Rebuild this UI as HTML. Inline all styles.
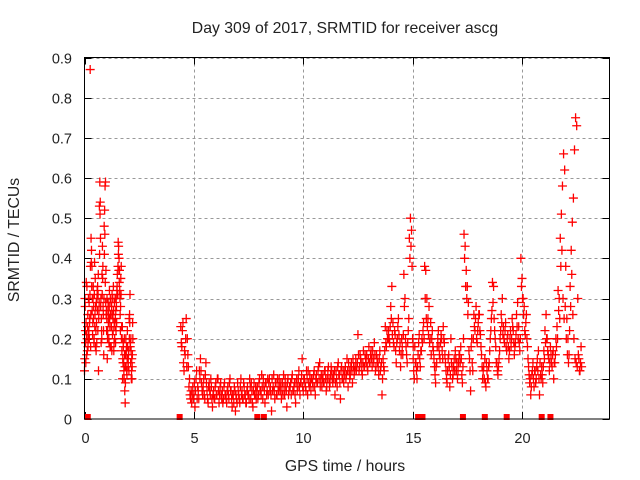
<!DOCTYPE html>
<html><head><meta charset="utf-8"><style>
body{margin:0;background:#fff}
svg{display:block;font-family:"Liberation Sans",sans-serif}
</style></head><body>
<svg id="chart" width="640" height="480" viewBox="0 0 640 480">
<rect width="640" height="480" fill="#fff"/>
<text x="345" y="33" text-anchor="middle" font-size="15.8" fill="#222">Day 309 of 2017, SRMTID for receiver ascg</text>
<text x="345" y="471" text-anchor="middle" font-size="15.8" fill="#222">GPS time / hours</text>
<text transform="translate(19,240) rotate(-90)" text-anchor="middle" font-size="15.8" fill="#222">SRMTID / TECUs</text>
<g id="grid"></g>
<g id="ticks"></g>
<g id="marks"></g>
<rect x="84.5" y="57.5" width="525" height="361.5" fill="none" stroke="#000" stroke-width="1"/>
</svg>
<script>
const xTicks=[0,5,10,15,20];
const yTicks=[0,0.1,0.2,0.3,0.4,0.5,0.6,0.7,0.8,0.9];
const yTickLabels=["0","0.1","0.2","0.3","0.4","0.5","0.6","0.7","0.8","0.9"];
const segAStart=0.0, segAStep=0.02;
const segAValues=[0.12,0.3,0.22,0.14,0.34,0.16,0.2,0.23,0.18,0.3,
0.22,0.2,0.25,0.87,0.18,0.45,0.42,0.38,0.3,0.24,
0.33,0.28,0.2,0.39,0.26,0.18,0.22,0.29,0.19,0.32,
0.33,0.31,0.12,0.27,0.53,0.59,0.54,0.28,0.19,0.22,
0.36,0.43,0.38,0.26,0.16,0.48,0.52,0.58,0.59,0.37,
0.27,0.25,0.15,0.22,0.29,0.26,0.19,0.32,0.23,0.3,
0.26,0.18,0.28,0.31,0.21,0.25,0.33,0.17,0.24,0.2,
0.3,0.19,0.22,0.28,0.32,0.36,0.31,0.44,0.43,0.4,
0.37,0.3,0.22,0.35,0.38,0.23,0.2,0.1,0.14,0.18,
0.12,0.2,0.07,0.04,0.16,0.13,0.18,0.11,0.22,0.15,
0.14,0.17,0.25,0.26,0.31,0.19,0.2,0.1,0.15,0.13,0.24];
const segA2Start=0.01;
const segA2Values=[0.15,0.28,0.19,0.24,0.21,0.33,0.17,0.26,0.22,0.2,
0.29,0.24,0.31,0.38,0.26,0.39,0.33,0.27,0.21,0.3,
0.25,0.19,0.31,0.23,0.35,0.28,0.17,0.24,0.3,0.27,
0.22,0.36,0.25,0.29,0.41,0.51,0.45,0.3,0.25,0.2,
0.31,0.35,0.28,0.22,0.3,0.41,0.46,0.34,0.29,0.26,
0.22,0.3,0.2,0.27,0.24,0.2,0.28,0.25,0.18,0.26,
0.29,0.23,0.17,0.26,0.3,0.22,0.27,0.19,0.29,0.23,
0.25,0.27,0.3,0.24,0.33,0.31,0.38,0.41,0.37,0.34,
0.32,0.26,0.28,0.31,0.2,0.17,0.23,0.15,0.19,0.14,
0.1,0.16,0.13,0.09,0.2,0.17,0.12,0.15,0.18,0.13,
0.16,0.12,0.2,0.24,0.18,0.14,0.17,0.12,0.1,0.16,0.2];
const segBStart=4.4, segBStep=0.05;
const segBValues=[0.23,0.18,0.24,0.12,0.16,0.25,0.2,0.13,0.1,0.05,
0.04,0.08,0.06,0.03,0.1,0.05,0.07,0.12,0.15,0.09,
0.06,0.1,0.05,0.14,0.07,0.04,0.09,0.06,0.08,0.03,
0.07,0.05,0.09,0.06,0.1,0.04,0.08,0.06,0.07,0.05,
0.09,0.06,0.04,0.08,0.05,0.1,0.07,0.03,0.06,0.08,
0.02,0.05,0.09,0.06,0.04,0.1,0.07,0.05,0.08,0.06,
0.04,0.08,0.06,0.1,0.05,0.07,0.03,0.09,0.06,0.05,
0.08,0.06,0.1,0.07,0.11,0.05,0.08,0.04,0.09,0.07,
0.06,0.1,0.08,0.02,0.07,0.11,0.05,0.09,0.06,0.08,
0.1,0.07,0.05,0.09,0.11,0.06,0.08,0.03,0.1,0.07,
0.08,0.06,0.11,0.07,0.09,0.04,0.1,0.08,0.12,0.06,
0.09,0.15,0.07,0.1,0.08,0.12,0.06,0.09,0.11,0.07,
0.1,0.08,0.12,0.06,0.11,0.09,0.13,0.14,0.1,0.08,
0.11,0.09,0.12,0.07,0.1,0.13,0.08,0.11,0.12,0.09,
0.1,0.06,0.12,0.08,0.14,0.11,0.05,0.13,0.1,0.09,
0.12,0.1,0.15,0.08,0.12,0.11,0.14,0.09,0.13,0.12,
0.15,0.13,0.21,0.12,0.16,0.14,0.11,0.17,0.13,0.15,
0.16,0.12,0.18,0.14,0.17,0.13,0.15,0.19,0.12,0.16,
0.14,0.11,0.17,0.13,0.06,0.15,0.12,0.23,0.18,0.2,
0.22,0.19,0.28,0.33,0.24,0.18,0.21,0.14,0.2,0.25,
0.17,0.13,0.2,0.16,0.36,0.3,0.18,0.14,0.22,0.45,
0.5,0.47,0.2];
const segB2Start=4.425;
const segB2Values=[0.19,0.22,0.14,0.17,0.2,0.13,0.16,0.08,0.06,0.07,
0.06,0.05,0.09,0.07,0.12,0.08,0.05,0.1,0.12,0.07,
0.08,0.06,0.11,0.09,0.05,0.08,0.07,0.1,0.05,0.06,
0.05,0.08,0.06,0.1,0.07,0.06,0.09,0.05,0.04,0.08,
0.06,0.05,0.07,0.06,0.09,0.07,0.05,0.06,0.04,0.07,
0.06,0.04,0.07,0.05,0.08,0.06,0.05,0.09,0.06,0.04,
0.07,0.06,0.05,0.08,0.09,0.04,0.07,0.06,0.08,0.07,
0.05,0.09,0.07,0.06,0.08,0.1,0.07,0.09,0.06,0.1,
0.09,0.07,0.06,0.1,0.08,0.07,0.09,0.06,0.1,0.07,
0.08,0.09,0.07,0.06,0.08,0.1,0.07,0.09,0.06,0.08,
0.09,0.1,0.07,0.08,0.06,0.09,0.07,0.1,0.08,0.09,
0.11,0.08,0.1,0.09,0.07,0.1,0.12,0.08,0.09,0.1,
0.09,0.11,0.08,0.1,0.09,0.12,0.1,0.08,0.11,0.1,
0.09,0.12,0.1,0.08,0.12,0.1,0.09,0.13,0.1,0.11,
0.12,0.09,0.1,0.13,0.11,0.09,0.12,0.1,0.12,0.11,
0.13,0.11,0.12,0.14,0.1,0.13,0.12,0.15,0.11,0.13,
0.12,0.14,0.16,0.13,0.15,0.12,0.14,0.13,0.16,0.14,
0.13,0.15,0.14,0.16,0.15,0.17,0.14,0.16,0.13,0.15,
0.13,0.15,0.12,0.14,0.1,0.13,0.17,0.19,0.22,0.2,
0.2,0.23,0.25,0.21,0.19,0.22,0.17,0.19,0.23,0.21,
0.19,0.16,0.18,0.21,0.28,0.2,0.16,0.19,0.25,0.4,
0.43,0.38,0.18];
const segCStart=15.0, segCStep=0.05;
const segCValues=[0.2,0.12,0.18,0.14,0.1,0.16,0.21,0.13,0.17,0.19,
0.24,0.38,0.37,0.3,0.25,0.28,0.2,0.16,0.22,0.17,
0.13,0.09,0.14,0.2,0.18,0.15,0.21,0.17,0.23,0.19,
0.14,0.1,0.12,0.16,0.08,0.2,0.13,0.11,0.15,0.17,
0.12,0.1,0.14,0.16,0.18,0.11,0.13,0.46,0.43,0.37,
0.33,0.29,0.15,0.07,0.2,0.12,0.26,0.22,0.28,0.19,
0.24,0.26,0.21,0.16,0.1,0.13,0.15,0.08,0.12,0.1,
0.14,0.2,0.25,0.34,0.33,0.22,0.18,0.14,0.11,0.15,
0.2,0.26,0.3,0.23,0.19,0.24,0.17,0.21,0.15,0.2,
0.18,0.25,0.22,0.16,0.19,0.26,0.29,0.23,0.17,0.4,
0.35,0.3,0.28,0.21,0.26,0.18,0.13,0.09,0.06,0.11,
0.14,0.08,0.12,0.1,0.15,0.17,0.06,0.11,0.13,0.09,
0.17,0.22,0.26,0.2,0.16,0.12,0.18,0.14,0.16,0.1,
0.14,0.2,0.23,0.32,0.3,0.45,0.51,0.58,0.66,0.62,
0.38,0.25,0.2,0.16,0.33,0.42,0.49,0.55,0.67,0.75,
0.73,0.3,0.15,0.12,0.18];
const segC2Start=15.025;
const segC2Values=[0.15,0.1,0.14,0.12,0.13,0.19,0.15,0.17,0.2,0.22,
0.2,0.3,0.25,0.23,0.21,0.19,0.24,0.2,0.18,0.15,
0.11,0.13,0.18,0.22,0.16,0.19,0.2,0.15,0.2,0.16,
0.12,0.09,0.15,0.13,0.11,0.14,0.1,0.13,0.12,0.15,
0.14,0.12,0.16,0.14,0.15,0.09,0.2,0.4,0.33,0.3,
0.26,0.17,0.12,0.18,0.14,0.2,0.23,0.25,0.2,0.22,
0.26,0.22,0.18,0.13,0.12,0.1,0.09,0.14,0.1,0.13,
0.17,0.22,0.27,0.29,0.25,0.2,0.14,0.12,0.13,0.17,
0.22,0.24,0.21,0.2,0.22,0.18,0.2,0.18,0.17,0.22,
0.2,0.23,0.19,0.18,0.21,0.23,0.2,0.19,0.2,0.33,
0.3,0.26,0.22,0.24,0.2,0.15,0.11,0.1,0.08,0.12,
0.1,0.12,0.09,0.13,0.12,0.1,0.14,0.1,0.11,0.13,
0.15,0.19,0.2,0.17,0.15,0.14,0.16,0.13,0.17,0.14,
0.16,0.18,0.2,0.27,0.25,0.38,0.42,0.3,0.25,0.28,
0.2,0.16,0.14,0.22,0.28,0.36,0.26,0.2,0.15,0.14,
0.13,0.16,0.12,0.14,0.13];
const gapTimes=[0.15,4.35,7.9,8.2,15.25,15.45,17.3,18.3,19.3,20.9,21.3];

const X0=84.5,X1=609.5,Y0=419,Y1=57.5;
const xs=t=>X0+(t/24)*(X1-X0);
const ys=v=>Y0-(v/0.9)*(Y0-Y1);
const NS="http://www.w3.org/2000/svg";
function mk(tag,attrs,parent){const e=document.createElementNS(NS,tag);for(const k in attrs)e.setAttribute(k,attrs[k]);parent.appendChild(e);return e;}
const grid=document.getElementById('grid'),ticks=document.getElementById('ticks'),marks=document.getElementById('marks');
xTicks.forEach(t=>{const x=Math.round(xs(t))+0.5;
 if(t>0){const g=mk('line',{x1:x,x2:x,y1:Y1,y2:Y0,stroke:'#999','stroke-dasharray':'3,3'},grid);
 
 }
 const a=mk('line',{x1:x,x2:x,y1:Y0,y2:Y0-7,stroke:'#000'},ticks);
 
 
 const b=mk('line',{x1:x,x2:x,y1:Y1,y2:Y1+7,stroke:'#000'},ticks);
 
 
 const l=mk('text',{x:x,y:443,'text-anchor':'middle','font-size':14.5,fill:'#222'},ticks);l.textContent=t;
 
 });
yTicks.forEach((v,i)=>{const y=Math.round(ys(v))+0.5;
 if(v>0){const g=mk('line',{x1:X0,x2:X1,y1:y,y2:y,stroke:'#999','stroke-dasharray':'3,3'},grid);
 
 }
 const a=mk('line',{x1:X0,x2:X0+7,y1:y,y2:y,stroke:'#000'},ticks);
 
 
 const b=mk('line',{x1:X1,x2:X1-7,y1:y,y2:y,stroke:'#000'},ticks);
 
 
 const l=mk('text',{x:72,y:y+5,'text-anchor':'end','font-size':14.5,fill:'#222'},ticks);l.textContent=yTickLabels[i];
 
 });
function plus(t,v){const x=xs(t),y=ys(v);
 const p=mk('path',{d:`M${x-4.5},${y}H${x+4.5}M${x},${y-4.5}V${y+4.5}`,stroke:'#f00','stroke-width':1.3,fill:'none'},marks);
 
 }
[[segAStart,segAStep,segAValues],[segA2Start,segAStep,segA2Values],
 [segBStart,segBStep,segBValues],[segB2Start,segBStep,segB2Values],
 [segCStart,segCStep,segCValues],[segC2Start,segCStep,segC2Values]].forEach(([s,st,vals])=>{
 vals.forEach((v,i)=>plus(s+i*st,v));});
gapTimes.forEach(t=>{const r=mk('rect',{x:xs(t)-3,y:Y0-5,width:6,height:6,fill:'#f00'},marks);
 
 });
</script>
</body></html>
